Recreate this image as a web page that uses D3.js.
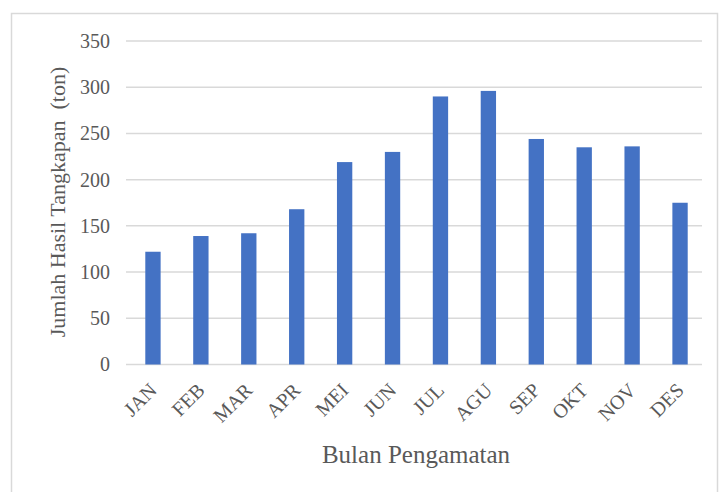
<!DOCTYPE html>
<html>
<head>
<meta charset="utf-8">
<script src="https://cdn.jsdelivr.net/npm/d3@7"></script>
<style>
	body { margin: 0; background: #fff; }
	text { font-family: "Liberation Serif", "Times New Roman", serif; }
</style>
</head>
<body>
<script>
const w = 720;
const h = 492;

const months = ['JAN', 'FEB', 'MAR', 'APR', 'MEI', 'JUN', 'JUL', 'AGU', 'SEP', 'OKT', 'NOV', 'DES'];
const catch_ton = [122, 139, 142, 168, 219, 230, 290, 296, 244, 235, 236, 175];
const yTicks = [0, 50, 100, 150, 200, 250, 300, 350];

const svg = d3.select('body').append('svg')
	.attr('width', w)
	.attr('height', h);

// chart frame
svg.append('rect')
	.attr('x', 11.5)
	.attr('y', 13.5)
	.attr('width', 706)
	.attr('height', 500)
	.attr('fill', 'none')
	.attr('stroke', '#d9d9d9')
	.attr('stroke-width', 1.5);

const x = d3.scaleBand()
	.domain(months)
	.range([129, 704])
	.paddingInner(0.68)
	.paddingOuter(0.34);

const y = d3.scaleLinear()
	.domain([0, 350])
	.range([364.5, 41]);

// gridlines
svg.append('g')
	.selectAll('line')
	.data(yTicks)
	.enter()
	.append('line')
	.attr('x1', 126)
	.attr('x2', 702)
	.attr('y1', d => y(d))
	.attr('y2', d => y(d))
	.attr('stroke', '#d9d9d9')
	.attr('stroke-width', 1.5);

const yAxis = d3.axisLeft(y)
	.tickValues(yTicks)
	.tickSize(0)
	.tickPadding(16);

svg.append('g')
	.attr('transform', 'translate(126,0)')
	.call(yAxis)
	.call(g => g.select('.domain').remove())
	.selectAll('text')
	.attr('fill', '#595959')
	.style('font-size', '20px');

svg.append('g')
	.selectAll('rect')
	.data(catch_ton)
	.enter()
	.append('rect')
	.attr('x', (d, i) => x(months[i]))
	.attr('y', d => y(d))
	.attr('width', x.bandwidth())
	.attr('height', d => y(0) - y(d))
	.attr('fill', '#4472C4');

const xAxis = d3.axisBottom(x)
	.tickSize(0);

svg.append('g')
	.attr('transform', 'translate(0,' + y(0) + ')')
	.call(xAxis)
	.call(g => g.select('.domain').remove())
	.selectAll('text')
	.attr('fill', '#595959')
	.style('font-size', '20px')
	.attr('text-anchor', 'end')
	.attr('dy', 0)
	.attr('y', 0)
	.attr('transform', 'translate(5,27) rotate(-45)');

svg.append('text')
	.attr('x', 416)
	.attr('y', 463)
	.attr('text-anchor', 'middle')
	.attr('fill', '#595959')
	.style('font-size', '25px')
	.text('Bulan Pengamatan');

svg.append('text')
	.attr('transform', 'translate(65,202) rotate(-90)')
	.attr('text-anchor', 'middle')
	.attr('fill', '#595959')
	.style('font-size', '22px')
	.style('white-space', 'pre')
	.text('Jumlah Hasil Tangkapan  (ton)');
</script>
</body>
</html>
